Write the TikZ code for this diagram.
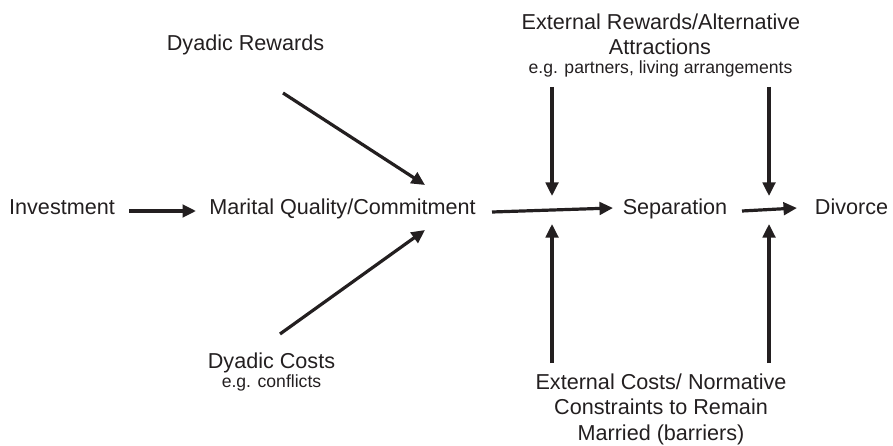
\documentclass[tikz,border=0pt]{standalone}
\usepackage{fontspec}
\setmainfont{Liberation Sans}
\usetikzlibrary{arrows.meta}
\definecolor{ink}{RGB}{35,31,32}
\tikzset{
  big/.style={anchor=base, inner sep=0pt, text=ink, font=\fontsize{21.6}{25}\selectfont},
  small/.style={anchor=base, inner sep=0pt, text=ink, font=\fontsize{17.6}{20}\selectfont},
  arr/.style={draw=ink, line width=3.2pt, -{Triangle[length=13.5pt,width=12.5pt]}}
}
\begin{document}
\begin{tikzpicture}[x=1pt,y=1pt]
\useasboundingbox (0,0) rectangle (893,445);
% main row
\node[big] (inv) at (62,231) {Investment};
\node[big] (mqc) at (342.5,231) {Marital Quality/Commitment};
\node[big] (sep) at (675,231) {Separation};
\node[big] (div) at (851.5,231) {Divorce};
% dyadic
\node[big] (drew) at (245.5,394) {Dyadic Rewards};
\node[big] (dcost) at (271.5,77) {Dyadic Costs};
\node[small] (dcostex) at (271.5,58) {e.g. conflicts};
% external rewards
\node[big] (erewA) at (661,415) {External Rewards/Alternative};
\node[big] (erewB) at (660,390) {Attractions};
\node[small] (erewC) at (660.5,371) {e.g. partners, living arrangements};
% external costs
\node[big] (ecostA) at (661,56) {External Costs/ Normative};
\node[big] (ecostB) at (661,30.5) {Constraints to Remain};
\node[big] (ecostC) at (661,5) {Married (barriers)};
% connector end points
\coordinate (invE) at (129,234);
\coordinate (mqcW) at (196,234);
\coordinate (drewS) at (283,352);
\coordinate (mqcNE) at (425,260);
\coordinate (dcostN) at (280,111);
\coordinate (mqcSE) at (425,215);
\coordinate (mqcE) at (492,233);
\coordinate (sepW) at (613,237);
\coordinate (sepE) at (742,234);
\coordinate (divW) at (797,237);
\coordinate (erewL) at (552,358);
\coordinate (erewR) at (769,358);
\coordinate (tipDL) at (552,249);
\coordinate (tipDR) at (769,249);
\coordinate (ecostL) at (552,82);
\coordinate (ecostR) at (769,82);
\coordinate (tipUL) at (552,221);
\coordinate (tipUR) at (769,221);
% connectors
\draw[arr] (invE) -- (mqcW);
\draw[arr] (drewS) -- (mqcNE);
\draw[arr] (dcostN) -- (mqcSE);
\draw[arr] (mqcE) -- (sepW);
\draw[arr] (sepE) -- (divW);
\draw[arr] (erewL) -- (tipDL);
\draw[arr] (erewR) -- (tipDR);
\draw[arr] (ecostL) -- (tipUL);
\draw[arr] (ecostR) -- (tipUR);
\end{tikzpicture}
\end{document}
